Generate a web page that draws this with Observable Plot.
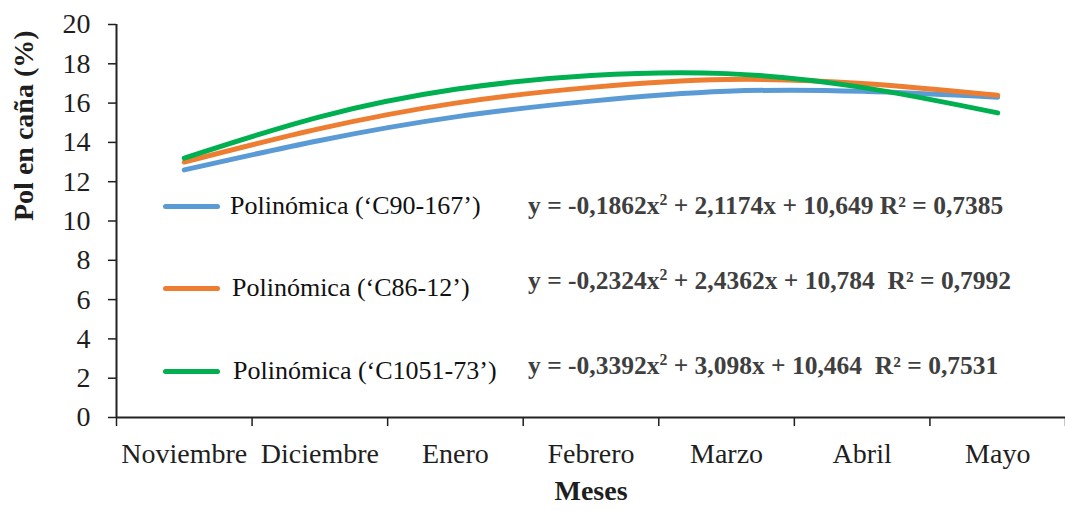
<!DOCTYPE html>
<html>
<head>
<meta charset="utf-8">
<script src="https://cdn.jsdelivr.net/npm/d3@7"></script>
<script src="https://cdn.jsdelivr.net/npm/@observablehq/plot@0.6"></script>
<style>
  html, body { margin: 0; padding: 0; background: white; }
  #wrap { position: relative; width: 1065px; height: 510px; overflow: hidden; }
  .ov { position: absolute; font-family: "Liberation Serif", "Times New Roman", serif; white-space: nowrap; line-height: 1; }
  .leg { font-size: 26px; color: #111; }
  .eq { font-size: 25.5px; font-weight: bold; color: #3f3f3f; }
  .eq sup { font-size: 0.62em; vertical-align: 0.55em; line-height: 0; }
  .sw { position: absolute; height: 5px; width: 57px; border-radius: 3px; }
</style>
</head>
<body>
<div id="wrap"></div>
<script>
// ---- data ----
const months = ["Noviembre", "Diciembre", "Enero", "Febrero", "Marzo", "Abril", "Mayo"];
const seriesNames = ["C90-167", "C86-12", "C1051-73"];
const seriesColors = ["#5B9BD5", "#ED7D31", "#00B050"];
const c90_167 = [12.6, 14.1, 15.3, 16.1, 16.6, 16.6, 16.3];
const c86_12 = [13.0, 14.7, 16.0, 16.8, 17.2, 17.0, 16.4];
const c1051_73 = [13.2, 15.3, 16.7, 17.4, 17.5, 16.8, 15.5];
const yTicks = [0, 2, 4, 6, 8, 10, 12, 14, 16, 18, 20];
const legendLabels = ["Polinómica (‘C90-167’)", "Polinómica (‘C86-12’)", "Polinómica (‘C1051-73’)"];
const equations = [
  "y = -0,1862x<sup>2</sup> + 2,1174x + 10,649 R² = 0,7385",
  "y = -0,2324x<sup>2</sup> + 2,4362x + 10,784&nbsp; R² = 0,7992",
  "y = -0,3392x<sup>2</sup> + 3,098x + 10,464&nbsp; R² = 0,7531"
];

const seriesValues = [c90_167, c86_12, c1051_73];
const rows = seriesNames.flatMap((s, k) => months.map((m, i) => ({ s, x: i + 1, y: seriesValues[k][i] })));
const bounds = months.map((_, i) => i + 0.5).concat([months.length + 0.5]);
const centers = months.map((_, i) => i + 1);

const chart = Plot.plot({
  width: 1065,
  height: 510,
  marginLeft: 116,
  marginRight: 0,
  marginTop: 24,
  marginBottom: 93,
  style: { fontFamily: "'Liberation Serif', 'Times New Roman', serif", fontSize: "28px", color: "#1e1e1e", background: "white", overflow: "visible" },
  x: { domain: [0.5, months.length + 0.5] },
  y: { domain: [0, 20] },
  color: { domain: seriesNames, range: seriesColors },
  marks: [
    Plot.axisY({ ticks: yTicks, tickSize: 8, tickPadding: 18, label: null, strokeWidth: 1.5 }),
    Plot.axisX({ ticks: bounds, tickSize: 9, tickFormat: () => "", label: null, strokeWidth: 1.5 }),
    Plot.axisX({ ticks: centers, tickSize: 0, tickPadding: 26, tickFormat: (d) => months[Math.round(d) - 1], label: null }),
    Plot.ruleX([0.5], { strokeWidth: 2, stroke: "#222" }),
    Plot.ruleY([0], { strokeWidth: 2, stroke: "#222" }),
    Plot.line(rows, { x: "x", y: "y", z: "s", stroke: "s", curve: "natural", strokeWidth: 5 }),
    Plot.text(["Pol en caña (%)"], { frameAnchor: "left", rotate: -90, dx: -92, fontWeight: "bold", fontSize: 28 }),
    Plot.text(["Meses"], { frameAnchor: "bottom", dy: 82, fontWeight: "bold", fontSize: 28 })
  ]
});

const wrap = document.getElementById("wrap");
wrap.appendChild(chart);

// legend + trend-line equations (overlay inside the plot area)
const legRowCenter = [206, 288, 371];
const legTextLeft = [230, 232, 233];
const eqRowCenter = [205, 280, 365];
seriesNames.forEach((s, k) => {
  const sw = document.createElement("div");
  sw.className = "sw";
  sw.style.left = "163px";
  sw.style.top = (legRowCenter[k] - 2.5) + "px";
  sw.style.background = seriesColors[k];
  wrap.appendChild(sw);

  const t = document.createElement("div");
  t.className = "ov leg";
  t.textContent = legendLabels[k];
  t.style.left = legTextLeft[k] + "px";
  t.style.top = (legRowCenter[k] - 13) + "px";
  wrap.appendChild(t);

  const e = document.createElement("div");
  e.className = "ov eq";
  e.innerHTML = equations[k];
  e.style.left = "528px";
  e.style.top = (eqRowCenter[k] - 12.5) + "px";
  wrap.appendChild(e);
});
</script>
</body>
</html>
